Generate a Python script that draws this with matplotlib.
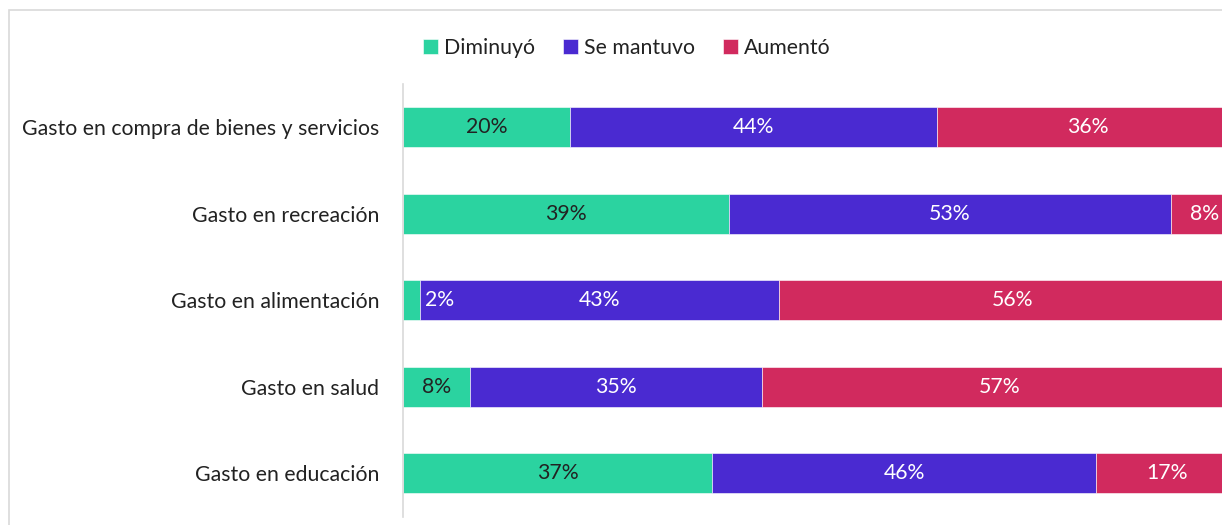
import matplotlib.pyplot as plt
from matplotlib.patches import Rectangle
import numpy as np

plt.rcParams['font.family'] = ['Lato', 'DejaVu Sans']

# Data
categorias = ['Gasto en compra de bienes y servicios', 'Gasto en recreación',
              'Gasto en alimentación', 'Gasto en salud', 'Gasto en educación']
series = ['Diminuyó', 'Se mantuvo', 'Aumentó']
diminuyo = [20, 39, 2, 8, 37]
se_mantuvo = [44, 53, 43, 35, 46]
aumento = [36, 8, 56, 57, 17]

colores = ['#2BD3A0', '#4A2AD1', '#D12A5E']
color_texto = ['#222222', 'white', 'white']
fs = 15.3

fig = plt.figure(figsize=(12.22, 5.25), dpi=100)

# light frame around chart (cut at right/bottom as in the source)
fig.patches.append(Rectangle((9 / 1222, -0.1), 1.2, (515 - 0) / 525 + 0.1,
                             transform=fig.transFigure, fill=False,
                             edgecolor='#d9d9d9', linewidth=1.2))

ax = fig.add_axes([403 / 1222, 8.5 / 525, 835 / 1222, 432.5 / 525])

y = np.arange(len(categorias))
left = np.zeros(len(categorias))
for vals, nombre, col, tcol in zip([diminuyo, se_mantuvo, aumento], series, colores, color_texto):
    vals = np.array(vals, dtype=float)
    ax.barh(y, vals, left=left, height=0.46, color=col, label=nombre,
            edgecolor='white', linewidth=0.4)
    for yi, l, v in zip(y, left, vals):
        if v < 5:
            # small segment: label spills into next one
            ax.text(l + v + 0.6, yi, f'{int(v)}%', ha='left', va='center',
                    color='white', fontsize=fs)
        else:
            ax.text(l + v / 2, yi, f'{int(v)}%', ha='center', va='center',
                    color=tcol, fontsize=fs)
    left += vals

ax.set_xlim(0, 100)
ax.set_ylim(len(categorias) - 0.5, -0.5)
ax.set_yticks(y)
ax.set_yticklabels(categorias, fontsize=fs, color='#222222')
ax.tick_params(axis='y', length=0, pad=17)
ax.set_xticks([])
for s in ['top', 'right', 'bottom']:
    ax.spines[s].set_visible(False)
ax.spines['left'].set_color('#d9d9d9')
ax.spines['left'].set_linewidth(1.2)

fig.legend(loc='center', bbox_to_anchor=(627 / 1222, 1 - 48 / 525), ncol=3,
           frameon=False, fontsize=fs, handlelength=0.7, handleheight=0.7,
           handletextpad=0.3, columnspacing=1.3, labelcolor='#222222')

fig.savefig('out.png', dpi=100)
